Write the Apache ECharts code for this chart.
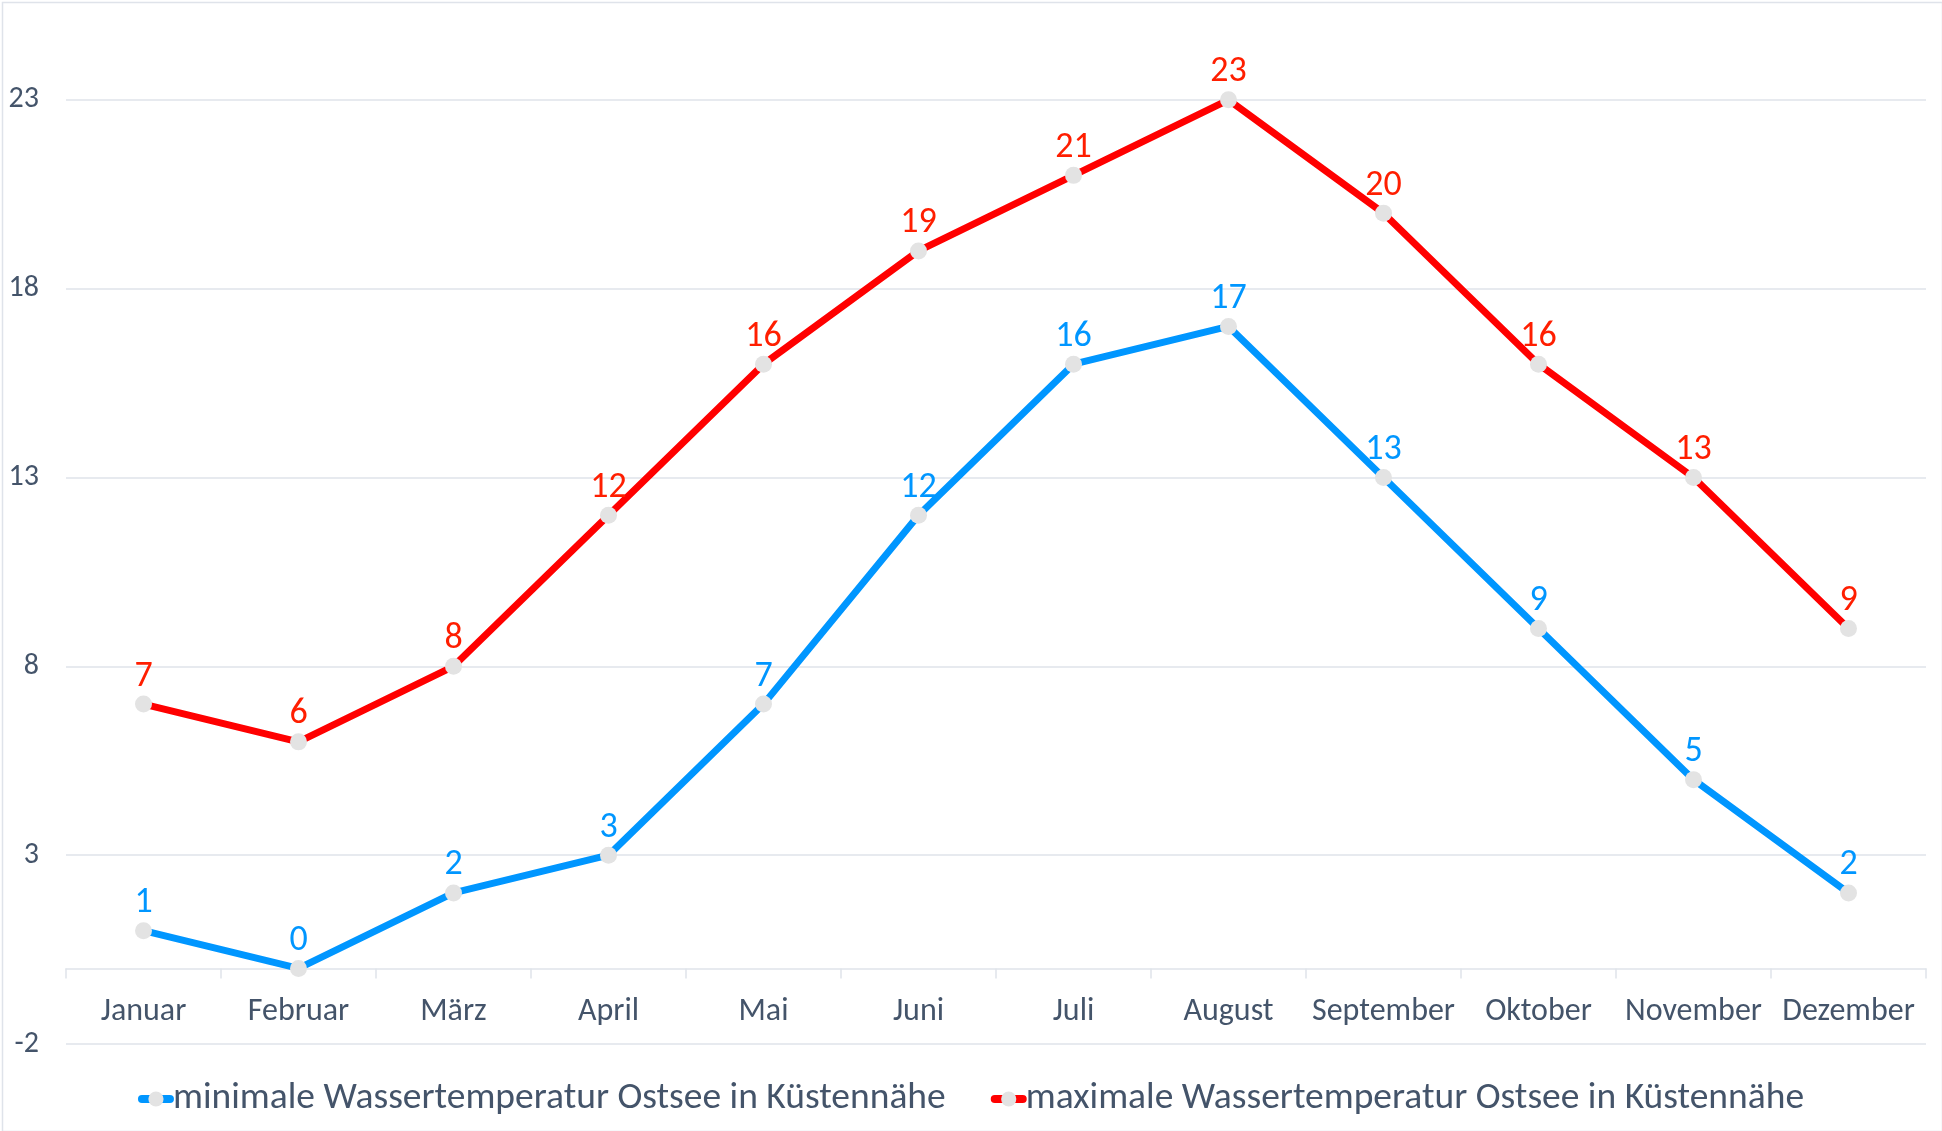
<!DOCTYPE html>
<html>
<head>
<meta charset="utf-8">
<script src="https://cdn.jsdelivr.net/npm/echarts@6/dist/echarts.min.js"></script>
<style>
html,body{margin:0;padding:0;background:#fff;}
#c{width:1942px;height:1131px;}
</style>
</head>
<body>
<div id="c"></div>
<script>
const months = ['Januar','Februar','März','April','Mai','Juni','Juli','August','September','Oktober','November','Dezember'];
const minTemp = [1,0,2,3,7,12,16,17,13,9,5,2];
const maxTemp = [7,6,8,12,16,19,21,23,20,16,13,9];
const minName = 'minimale Wassertemperatur Ostsee in Küstennähe';
const maxName = 'maximale Wassertemperatur Ostsee in Küstennähe';

const FONT = 'Carlito, Lato, sans-serif';
const TXT = '#44546a';
const GRID = '#dfe3ea';
const BLUE = '#0096ff';
const RED = '#ff0000';

const chart = echarts.init(document.getElementById('c'), null, {renderer:'canvas'});
chart.setOption({
  animation:false,
  backgroundColor:'#fff',
  graphic:[{
    type:'rect', left:0, top:0, silent:true,
    shape:{x:0.5,y:0.5,width:1940,height:1129},
    style:{fill:'none',stroke:GRID,lineWidth:1.5}
  }],
  grid:{left:66,right:16,top:-89,bottom:87,containLabel:false,outerBoundsMode:'none'},
  legend:{
    top:1075,
    left:'center',
    itemWidth:28,
    itemHeight:19,
    itemGap:45,
    lineStyle:{width:8,cap:'round'},
    textStyle:{fontFamily:FONT,fontSize:37.5,color:TXT,padding:[0,0,0,-2]},
    data:[minName,maxName]
  },
  xAxis:{
    type:'category',
    data:months,
    boundaryGap:true,
    axisLine:{show:true,onZero:true,lineStyle:{color:GRID,width:1.5}},
    axisTick:{show:true,length:10,interval:0,alignWithLabel:false,lineStyle:{color:GRID,width:1.5}},
    axisLabel:{interval:0,fontFamily:FONT,fontSize:32,color:TXT,margin:-48}
  },
  yAxis:{
    type:'value',
    min:-2,max:28,interval:5,
    axisLine:{show:false},
    axisTick:{show:false},
    splitLine:{show:true,lineStyle:{color:GRID,width:1.5}},
    axisLabel:{fontFamily:FONT,fontSize:30,color:TXT,margin:27}
  },
  series:[
    {
      name:minName,type:'line',data:minTemp,
      color:BLUE,
      symbol:'circle',symbolSize:17,
      lineStyle:{color:BLUE,width:7},
      itemStyle:{color:'#e3e3e3'},
      label:{show:true,position:'top',distance:1,color:BLUE,fontFamily:FONT,fontSize:36},
      z:3
    },
    {
      name:maxName,type:'line',data:maxTemp,
      color:RED,
      symbol:'circle',symbolSize:17,
      lineStyle:{color:RED,width:7},
      itemStyle:{color:'#e3e3e3'},
      label:{show:true,position:'top',distance:1,color:'#ff1e00',fontFamily:FONT,fontSize:36},
      z:4
    }
  ]
});
</script>
</body>
</html>
